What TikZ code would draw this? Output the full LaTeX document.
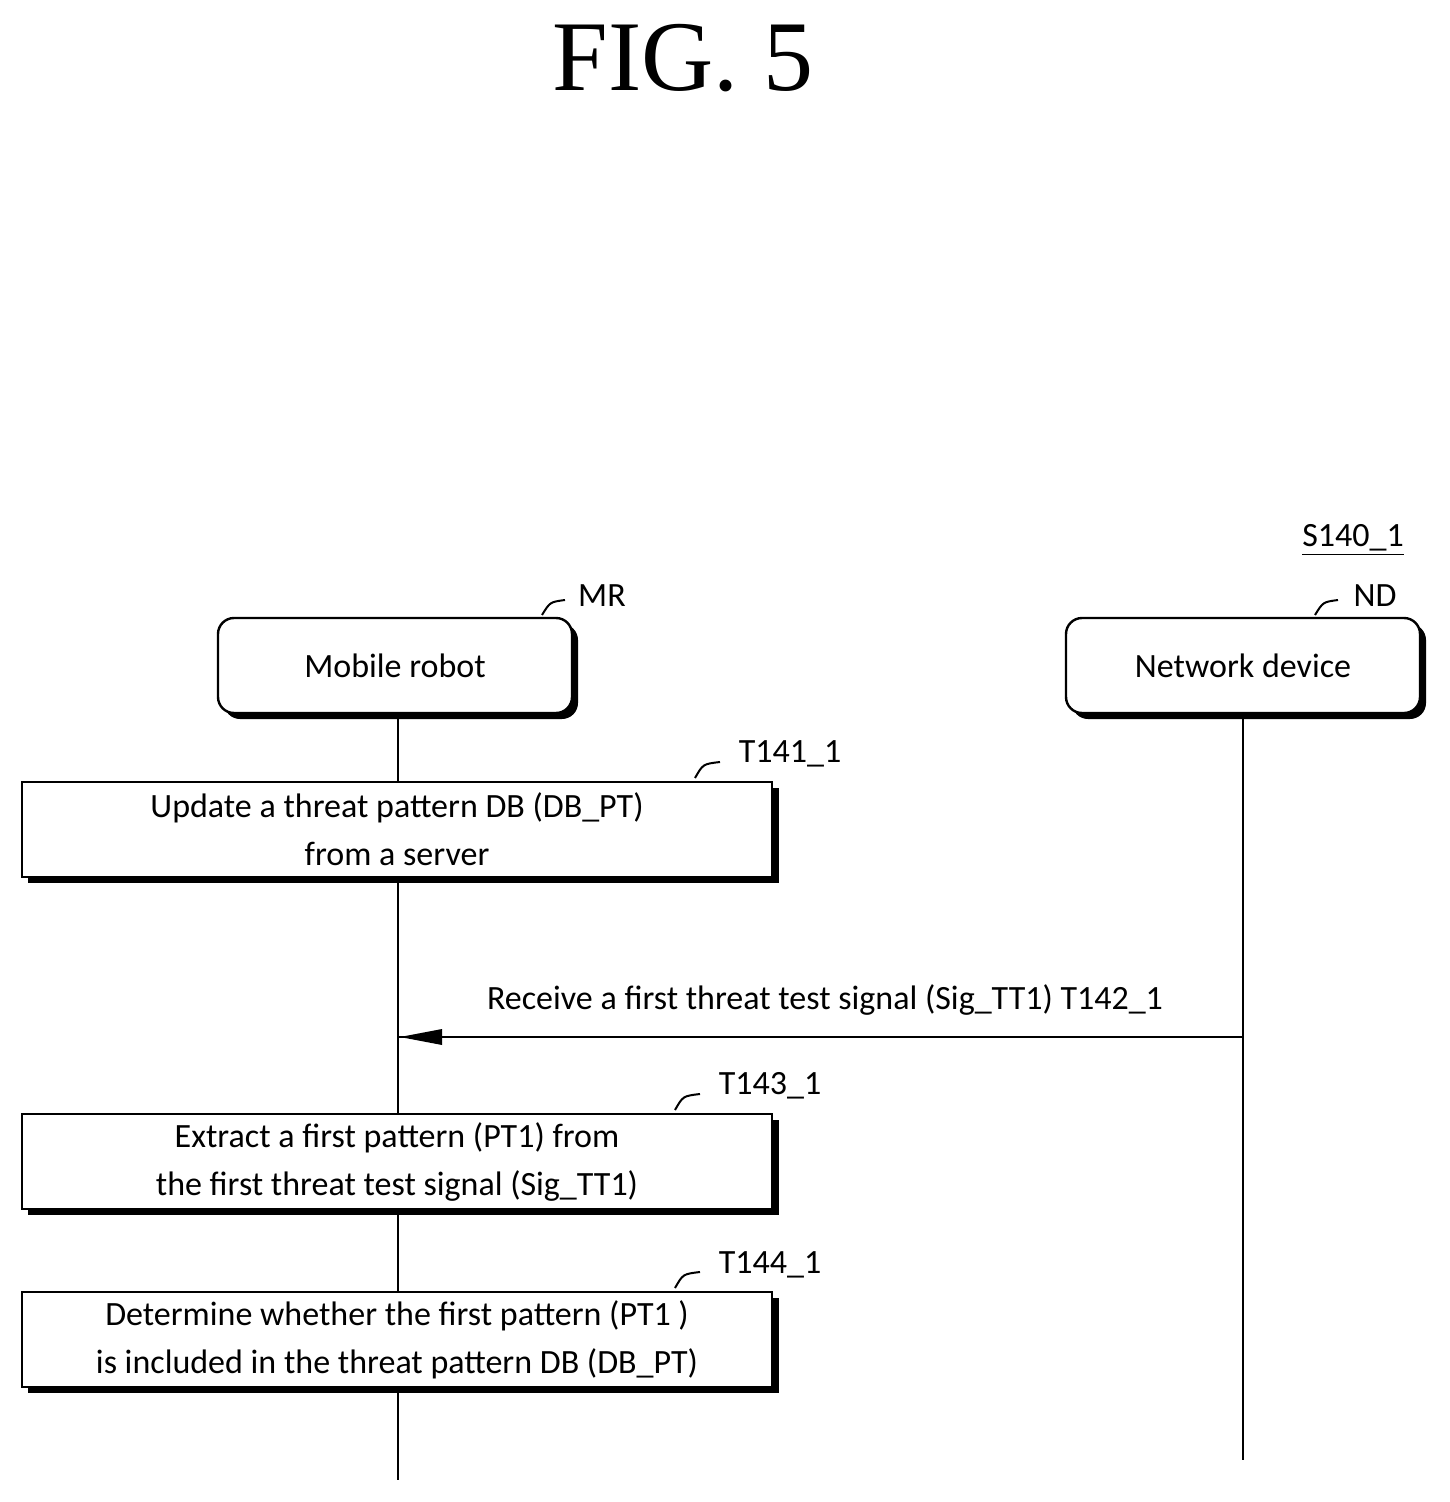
\documentclass[tikz,border=0pt]{standalone}
\usepackage{fontspec}
\setmainfont{Carlito}
\newfontfamily\figfont{Liberation Serif}
\begin{document}
\begin{tikzpicture}[x=0.5pt,y=-0.5pt,
  sh/.style={fill=black,draw=black},
  box/.style={draw=black,line width=1.2pt,fill=white,minimum width=375pt,minimum height=47.5pt,inner sep=0pt,align=center,font=\fontsize{17}{24}\selectfont},
  rbox/.style={box,rounded corners=8pt,minimum width=177pt},
  lab/.style={font=\fontsize{17}{20}\selectfont},
  life/.style={line width=1.2pt}]
\useasboundingbox (0,0) rectangle (1449,1502);
\node[font=\figfont\fontsize{50}{50}\selectfont] (fig) at (683,58) {FIG. 5};
\node[lab] (s) at (1353,540) {\underline{S140\_1}};
% lifelines
\coordinate (mrend) at (398,1480);
\coordinate (ndend) at (1243,1460);
\coordinate (mrtop) at (398,713);
\coordinate (ndtop) at (1243,713);
\draw[life] (mrtop) -- (mrend);
\draw[life] (ndtop) -- (ndend);
% header boxes
\fill[rounded corners=8pt] (224,624) rectangle (578,719);
\node[rbox] (mr) at (395,665.5) {Mobile robot};
\fill[rounded corners=8pt] (1072,624) rectangle (1426,719);
\node[rbox] (nd) at (1243,665.5) {Network device};
\node[lab] (mrl) at (602,596) {MR};
\node[lab] (ndl) at (1375,596) {ND};
\draw[line width=1pt] (542,615) .. controls (550,602) .. (565,600);
\draw[line width=1pt] (1315,615) .. controls (1323,602) .. (1338,600);
% process boxes
\foreach \y in {782,1114,1292}{\fill (28,\y+6) rectangle (779,\y+101);}
\node[box] (t141) at (397,829.5) {Update a threat pattern DB (DB\_PT)\\from a server};
\node[box] (t143) at (397,1161.5) {Extract a first pattern (PT1) from\\the first threat test signal (Sig\_TT1)};
\node[box] (t144) at (397,1339.5) {Determine whether the first pattern (PT1 )\\is included in the threat pattern DB (DB\_PT)};
\node[lab] (l141) at (790,754) {T141\_1};
\node[lab] (l143) at (770,1086) {T143\_1};
\node[lab] (l144) at (770,1265) {T144\_1};
\draw[line width=1pt] (695,778) .. controls (703,764) .. (720,762);
\draw[line width=1pt] (675,1110) .. controls (683,1096) .. (700,1094);
\draw[line width=1pt] (675,1288) .. controls (683,1274) .. (700,1272);
% message
\coordinate (a1) at (1243,1037);
\coordinate (a2) at (398,1037);
\draw[line width=1.2pt] (a1) -- (a2);
\fill (400,1037) -- (442,1029) -- (442,1045) -- cycle;
\node[lab] (m) at (825,1000) {Receive a first threat test signal (Sig\_TT1) T142\_1};
\end{tikzpicture}
\end{document}
